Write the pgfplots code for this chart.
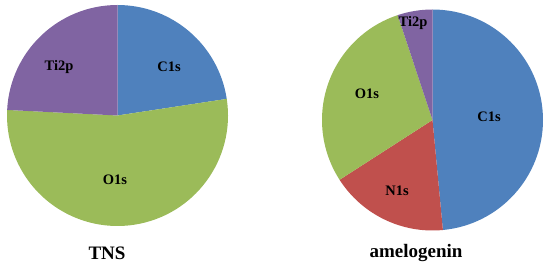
\documentclass[border=0pt]{standalone}
\usepackage{pgfplots}
\pgfplotsset{compat=1.18}
\usepackage{fontspec}
\setmainfont{Liberation Serif}

\definecolor{cblue}{HTML}{4F81BD}
\definecolor{cred}{HTML}{C0504D}
\definecolor{cgreen}{HTML}{9BBB59}
\definecolor{cpurple}{HTML}{8064A2}

% pie radius in canvas units (axis is 2R wide, from -1 to 1)
\def\R{110.5pt}
% slice from cumulative percent #1 to #2, clockwise from 12 o'clock
\newcommand{\pieslice}[3]{%
  \fill[#3] (axis cs:0,0) -- ++({90-3.6*#1}:\R)
    arc[start angle={90-3.6*#1}, end angle={90-3.6*#2}, radius=\R] -- cycle;}

\pgfplotsset{
  pie/.style={
    hide axis, scale only axis,
    width=221pt, height=221pt,
    xmin=-1, xmax=1, ymin=-1, ymax=1,
    anchor=center, clip=false,
  },
}

\begin{document}
\begin{tikzpicture}
\path[use as bounding box] (0,0) rectangle (550pt,268pt);

% TNS: C1s 22.6, O1s 53.2, Ti2p 24.2 (%)
\begin{axis}[pie, at={(117.5pt,152.5pt)}]
  \pieslice{0}{22.6}{cblue}
  \pieslice{22.6}{75.8}{cgreen}
  \pieslice{75.8}{100}{cpurple}
  \begin{scope}[font=\fontsize{14.5}{16}\selectfont\bfseries]
    \node at (axis cs:0.466,0.439) {C1s};
    \node at (axis cs:-0.023,-0.584) {O1s};
    \node at (axis cs:-0.529,0.439) {Ti2p};
  \end{scope}
\end{axis}

% amelogenin: C1s 48.5, N1s 17.4, O1s 29.0, Ti2p 5.1 (%)
\begin{axis}[pie, at={(432.5pt,148pt)}]
  \pieslice{0}{48.5}{cblue}
  \pieslice{48.5}{65.9}{cred}
  \pieslice{65.9}{94.9}{cgreen}
  \pieslice{94.9}{100}{cpurple}
  \begin{scope}[font=\fontsize{14.5}{16}\selectfont\bfseries]
    \node at (axis cs:0.511,0.027) {C1s};
    \node at (axis cs:-0.321,-0.643) {N1s};
    \node at (axis cs:-0.593,0.235) {O1s};
    \node at (axis cs:-0.176,0.878) {Ti2p};
  \end{scope}
\end{axis}

\node[anchor=base, font=\fontsize{19}{22}\selectfont\bfseries] at (107pt,8pt) {TNS};
\node[anchor=base, font=\fontsize{19}{22}\selectfont\bfseries] at (416pt,10pt) {amelogenin};
\end{tikzpicture}
\end{document}
